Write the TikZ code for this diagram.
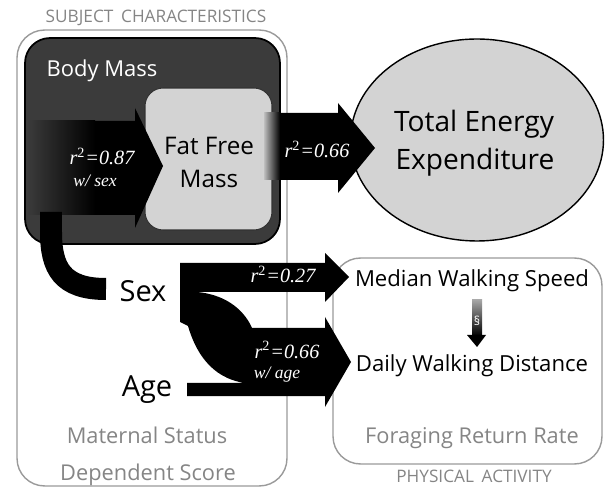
\documentclass[tikz,border=0pt]{standalone}
\usepackage{fontspec}
\setmainfont{Open Sans}
\newfontfamily\statfont{Liberation Serif}
\usepackage{tikz}
\usetikzlibrary{shapes.geometric}
\definecolor{bodygray}{HTML}{3B3B3B}
\definecolor{ffmgray}{HTML}{D3D3D3}
\definecolor{framegray}{HTML}{9A9A9A}
\definecolor{labelgray}{HTML}{858585}

\begin{document}
\begin{tikzpicture}[x=0.02cm,y=-0.02cm,
  groupbox/.style={draw=framegray,line width=0.8pt,rounded corners=0.55cm,inner sep=0pt},
  bodybox/.style={draw=black,fill=bodygray,line width=1pt,rounded corners=0.5cm,inner sep=0pt},
  ffmbox/.style={draw=black!80,fill=ffmgray,line width=0.6pt,rounded corners=0.36cm,inner sep=0pt},
  teebox/.style={ellipse,draw=black,fill=ffmgray,line width=0.8pt,inner sep=0pt},
  txt/.style={anchor=base,inner sep=0pt},
  grouptxt/.style={txt,text=labelgray,font=\fontsize{9.8}{11}\selectfont},
  graytxt/.style={txt,text=labelgray,font=\fontsize{12.4}{14}\selectfont},
  activity/.style={txt,font=\fontsize{12.6}{15}\selectfont},
  stat/.style={txt,text=white,font=\statfont\itshape\fontsize{11.5}{13}\selectfont},
  statsub/.style={txt,text=white,font=\statfont\itshape\fontsize{10}{12}\selectfont}]
\useasboundingbox (0,0) rectangle (605,489);
\node[groupbox,minimum width=5.4cm,minimum height=9.12cm] (S) at (152,258) {};
\node[bodybox,minimum width=5.1cm,minimum height=4.12cm] (B) at (152.5,141) {};
\node[ffmbox,minimum width=2.54cm,minimum height=2.84cm] (F) at (208.5,159) {};
\node[teebox,minimum width=5.06cm,minimum height=4.04cm] (T) at (477,140) {};
\node[groupbox,minimum width=5.38cm,minimum height=4.12cm] (P) at (467.5,361) {};
\fill (28,121) -- (135,121) -- (135,108) -- (163,166) -- (135,228) -- (135,215) -- (28,215) -- cycle;
\shade[left color=bodygray,right color=black] (27,121) rectangle (95,215);
\draw[line width=0.44cm] (106,289) .. controls (62,289) and (51,268) .. (51,232) -- (51,212);
\fill (265,113) -- (338,113) -- (338,103) -- (375,148) -- (338,193) -- (338,180) -- (265,180) -- cycle;
\shade[left color=black!25,right color=black] (264,113) rectangle (280,180);
\fill (180,263) -- (325,263) -- (325,253) -- (349,277) -- (325,302) -- (325,292) -- (197,292)
  .. controls (230,295) and (246,314) .. (252,328) -- (325,328) -- (325,317) -- (351,362)
  -- (325,407) -- (325,396) -- (187,396) -- (187,383) -- (245,383)
  .. controls (210,378) and (195,350) .. (188,326) -- (180,322) -- cycle;
\shade[top color=black!35,bottom color=black] (472,300) rectangle (482,336);
\fill (467,335) -- (486,335) -- (477,347) -- cycle;
\node[grouptxt] (s) at (156,23) {SUBJECT\hspace{0.45em}CHARACTERISTICS};
\node[txt,text=white,font=\fontsize{12.5}{15}\selectfont] (bm) at (102,77) {Body Mass};
\node[txt,font=\fontsize{13.8}{16}\selectfont] (ff) at (209,155) {Fat Free};
\node[txt,font=\fontsize{13.8}{16}\selectfont] (ffm) at (209,188) {Mass};
\node[stat] (r1) at (102,165) {r\textsuperscript{\upshape 2}=0.87};
\node[statsub] (w1) at (95,187) {w/ sex};
\node[stat] (r2) at (317,158) {r\textsuperscript{\upshape 2}=0.66};
\node[txt,font=\fontsize{16}{19}\selectfont] (te) at (474,132) {Total Energy};
\node[txt,font=\fontsize{16}{19}\selectfont] (ex) at (475,170) {Expenditure};
\node[txt,font=\fontsize{16.5}{19}\selectfont] (sex) at (143,302) {Sex};
\node[txt,font=\fontsize{16.5}{19}\selectfont] (age) at (147,397) {Age};
\node[stat] (r3) at (283,283) {r\textsuperscript{\upshape 2}=0.27};
\node[stat] (r4) at (287,358) {r\textsuperscript{\upshape 2}=0.66};
\node[statsub] (w2) at (277,378) {w/ age};
\node[graytxt] (ms) at (147,443) {Maternal Status};
\node[graytxt] (ds) at (148,480) {Dependent Score};
\node[activity] (mws) at (472,287) {Median Walking Speed};
\node[txt,text=white,font=\fontsize{7}{8}\selectfont] (sec) at (477,326) {§};
\node[activity] (dwd) at (472,372) {Daily Walking Distance};
\node[graytxt] (frr) at (472,443) {Foraging Return Rate};
\node[grouptxt] (pa) at (474,482) {PHYSICAL\hspace{0.45em}ACTIVITY};
\end{tikzpicture}
\end{document}
